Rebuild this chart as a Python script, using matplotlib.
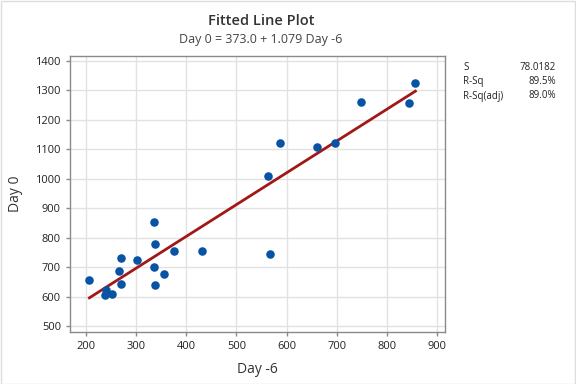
import matplotlib
matplotlib.use("Agg")
import matplotlib.pyplot as plt
import numpy as np

plt.rcParams['font.family'] = ['Open Sans', 'DejaVu Sans']

day_m6 = [206.6, 239, 238.5, 252.5, 270, 266.5, 270, 302, 336, 338, 336, 338, 356, 376, 432,
          562, 586, 660, 696, 747.5, 843.5, 857, 566]
day_0 = [655, 621, 606, 610, 732, 688, 644, 725, 855, 780, 702, 640, 676, 756, 756,
         1011, 1120, 1109, 1123, 1260, 1256, 1324, 746]
intercept = 373.0
slope = 1.079
stat_names = ["S", "R-Sq", "R-Sq(adj)"]
stat_values = ["78.0182", "89.5%", "89.0%"]
x_ticks = [200, 300, 400, 500, 600, 700, 800, 900]
y_ticks = [500, 600, 700, 800, 900, 1000, 1100, 1200, 1300, 1400]

fig = plt.figure(figsize=(5.76, 3.84), dpi=100)
ax = fig.add_axes([70/576, 1-332/384, 375/576, 276/384])

ax.grid(True, color='#e2e2e2', linewidth=1, zorder=0)
ax.set_axisbelow(True)

x = np.array(day_m6)
xl = np.array([x.min(), x.max()])
ax.plot(xl, intercept + slope * xl, color='#a01818', linewidth=2, zorder=2)
ax.scatter(day_m6, day_0, s=38, color='#0953a5', zorder=3, linewidths=0)

ax.set_xlim(168, 916)
ax.set_ylim(480, 1417)
ax.set_xticks(x_ticks)
ax.set_yticks(y_ticks)
for s in ax.spines.values():
    s.set_color('#8a8a8a')
    s.set_linewidth(1)
ax.tick_params(axis='both', labelsize=8, colors='#222222', length=3, width=1, color='#8a8a8a')

ax.set_xlabel("Day -6", fontsize=10, color='#333333', labelpad=7)
ax.set_ylabel("Day 0", fontsize=10, color='#333333', labelpad=9)

fig.text(261/576, 1-21/384, "Fitted Line Plot", ha='center', va='center',
         fontsize=10.5, fontweight='semibold', color='#333333')
fig.text(261/576, 1-39/384, "Day 0 = 373.0 + 1.079 Day -6", ha='center', va='center',
         fontsize=9, color='#444444')

for i, (n, v) in enumerate(zip(stat_names, stat_values)):
    yy = 1 - (67 + i*14.5)/384
    fig.text(463/576, yy, n, ha='left', va='center', fontsize=7, color='#222222')
    fig.text(556/576, yy, v, ha='right', va='center', fontsize=7, color='#222222')

fig.patches.append(plt.Rectangle((0.001, 0.001), 0.997, 0.997, transform=fig.transFigure,
                                 fill=False, edgecolor='#dddddd', linewidth=1))

fig.savefig("out.png", dpi=100)
